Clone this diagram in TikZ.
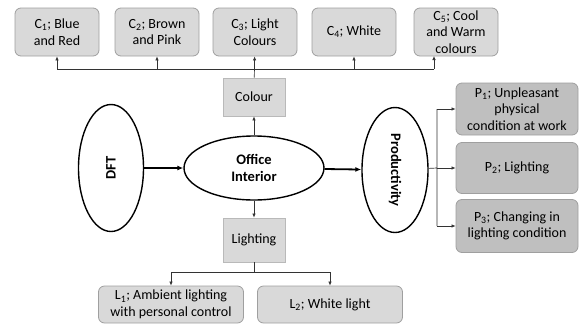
\documentclass[tikz,border=0pt]{standalone}
\usepackage{fontspec}
\setmainfont{Carlito}
\usetikzlibrary{arrows.meta,positioning,shapes.geometric}

\begin{document}
\begin{tikzpicture}[x=1pt, y=-1pt, >=Latex, every node/.style={font=\fontsize{14}{16.5}\selectfont},
  cbox/.style={draw=gray!75, fill=gray!30, rounded corners=6pt, align=center, minimum width=84pt, minimum height=48pt, inner sep=1pt, line width=0.8pt},
  pbox/.style={cbox, fill=gray!50, minimum width=122pt, minimum height=52pt},
  lbox/.style={cbox, minimum width=145pt, minimum height=37pt},
  sqbox/.style={draw=gray!55, fill=gray!30, minimum width=62pt, minimum height=38pt, line width=0.8pt},
  ell/.style={draw, ellipse, line width=1.4pt, inner sep=0pt, align=center, font=\bfseries\fontsize{14.5}{17}\selectfont},
  arrow/.style={-{Latex[length=4pt,width=3.5pt]}, line width=0.7pt, draw=black!80},
  bigarrow/.style={-{Latex[length=6pt,width=5pt]}, line width=1.8pt}]
\useasboundingbox (0,0) rectangle (579,325);
% colour branch
\node[cbox] (c1) at (57,32) {C\textsubscript{1}; Blue\\and Red};
\node[cbox] (c2) at (157,32) {C\textsubscript{2}; Brown\\and Pink};
\node[cbox] (c3) at (255,32) {C\textsubscript{3}; Light\\Colours};
\node[cbox] (c4) at (354,32) {C\textsubscript{4}; White};
\node[cbox] (c5) at (456,32) {C\textsubscript{5}; Cool\\and Warm\\colours};
\node[sqbox] (colour) at (254,97) {Colour};
% centre row
\node[ell, minimum width=65pt, minimum height=127pt] (dft) at (111,168) {\rotatebox{90}{DFT}};
\node[ell, minimum width=140pt, minimum height=64pt] (office) at (254,168) {Office\\Interior};
\node[ell, minimum width=66pt, minimum height=125pt] (prod) at (395,170) {\rotatebox{-90}{Productivity}};
% productivity branch
\node[pbox] (p1) at (517,109) {P\textsubscript{1}; Unpleasant\\physical\\condition at work};
\node[pbox, minimum height=51pt] (p2) at (517,168) {P\textsubscript{2}; Lighting};
\node[pbox, minimum height=53pt] (p3) at (517,226) {P\textsubscript{3}; Changing in\\lighting condition};
% lighting branch
\node[sqbox, minimum height=44pt] (light) at (254,240) {Lighting};
\node[lbox] (l1) at (171,304.5) {L\textsubscript{1}; Ambient lighting\\with personal control};
\node[lbox] (l2) at (330,304.5) {L\textsubscript{2}; White light};
\coordinate (cbus) at (254,69);
\coordinate (c5in) at (434,56);
\coordinate (pbus) at (437,168);
\coordinate (lbus) at (254,272);

\draw[bigarrow] (dft) -- (office);
\draw[bigarrow] (office) -- (prod);
\draw[arrow] (office) -- (colour);
\draw[arrow] (office) -- (light);
\draw[arrow] (colour) -- (c3);
\draw[line width=0.7pt, draw=black!80] (c1.south |- cbus) -- (c5in |- cbus);
\foreach \c in {c1,c2,c4}
  \draw[arrow] (\c.south |- cbus) -- (\c.south);
\draw[arrow] (c5in |- cbus) -- (c5in);
\draw[line width=0.7pt, draw=black!80] (prod) -- (pbus) (pbus |- p1.west) -- (pbus |- p3.west);
\foreach \p in {p1,p2,p3}
  \draw[arrow] (pbus |- \p.west) -- (\p.west);
\draw[line width=0.7pt, draw=black!80] (light) -- (lbus) (lbus -| l1) -- (lbus -| l2);
\foreach \l in {l1,l2}
  \draw[arrow] (lbus -| \l) -- (\l);
\end{tikzpicture}
\end{document}
